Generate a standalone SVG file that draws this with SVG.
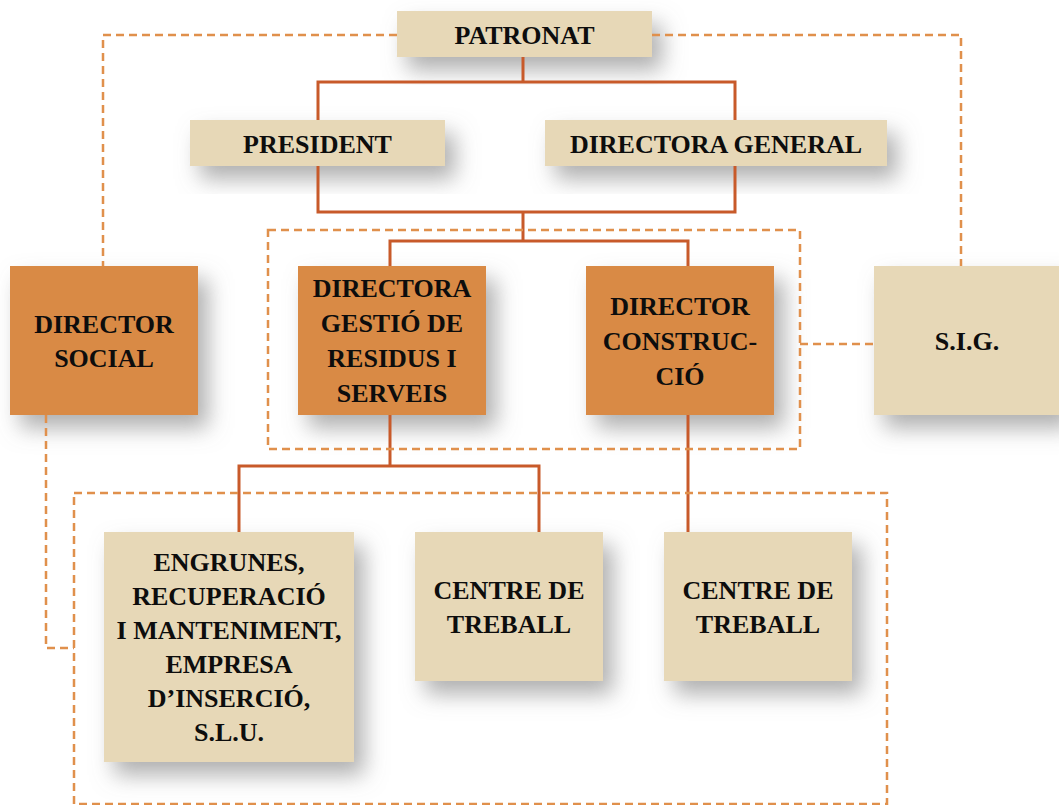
<svg xmlns="http://www.w3.org/2000/svg" width="1059" height="805" viewBox="0 0 1059 805">
<defs>
<filter id="sh" x="-30%" y="-40%" width="180%" height="200%">
<feDropShadow dx="10" dy="13" stdDeviation="11" flood-color="#7a7a7a" flood-opacity="0.6"/>
</filter>
<style>
.b{fill:#E7D8B7;filter:url(#sh)}
.o{fill:#D98A44;filter:url(#sh)}
.t{font-family:"Liberation Serif","Times New Roman",serif;font-weight:bold;font-size:26px;fill:#0d0d0d;text-anchor:middle}
.s{fill:none;stroke:#C85A2A;stroke-width:3}
.d{fill:none;stroke:#E0904C;stroke-width:2.5;stroke-dasharray:8 5}
</style>
</defs>
<rect width="1059" height="805" fill="#fff"/>
<g id="patronat"><rect class="b" x="397" y="11" width="255" height="46"/><text class="t" x="524.5" y="44">PATRONAT</text></g>
<g id="president"><rect class="b" x="190" y="120" width="255" height="46"/><text class="t" x="317.5" y="153">PRESIDENT</text></g>
<g id="directora-general"><rect class="b" x="545" y="120" width="342" height="46"/><text class="t" x="716" y="153">DIRECTORA GENERAL</text></g>
<g id="director-social"><rect class="o" x="10" y="266" width="188" height="149"/><text class="t" x="104" y="333">DIRECTOR</text><text class="t" x="104" y="367">SOCIAL</text></g>
<g id="directora-gestio"><rect class="o" x="298" y="266" width="188" height="149"/><text class="t" x="392" y="297">DIRECTORA</text><text class="t" x="392" y="332">GESTIÓ DE</text><text class="t" x="392" y="367">RESIDUS I</text><text class="t" x="392" y="402">SERVEIS</text></g>
<g id="director-construccio"><rect class="o" x="586" y="266" width="188" height="149"/><text class="t" x="680" y="315">DIRECTOR</text><text class="t" x="680" y="350">CONSTRUC-</text><text class="t" x="680" y="385">CIÓ</text></g>
<g id="sig"><rect class="b" x="874" y="266" width="188" height="149"/><text class="t" x="967" y="350">S.I.G.</text></g>
<g id="engrunes"><rect class="b" x="104" y="532" width="250" height="230"/><text class="t" x="229" y="571">ENGRUNES,</text><text class="t" x="229" y="605">RECUPERACIÓ</text><text class="t" x="229" y="639">I MANTENIMENT,</text><text class="t" x="229" y="673">EMPRESA</text><text class="t" x="229" y="707">D’INSERCIÓ,</text><text class="t" x="229" y="741">S.L.U.</text></g>
<g id="centre-treball-1"><rect class="b" x="415" y="532" width="188" height="149"/><text class="t" x="509" y="599">CENTRE DE</text><text class="t" x="509" y="633">TREBALL</text></g>
<g id="centre-treball-2"><rect class="b" x="664" y="532" width="188" height="149"/><text class="t" x="758" y="599">CENTRE DE</text><text class="t" x="758" y="633">TREBALL</text></g>
<g id="connectors">
<path class="s" d="M523 57V82M318 120V82H735V120"/>
<path class="s" d="M318 166V212H735V166M523 212V241"/>
<path class="s" d="M390 266V241H688V266"/>
<path class="s" d="M390 415V466M239 532V466H539V532"/>
<path class="s" d="M688 415V532"/>
<path class="d" d="M397 35H103V266"/>
<path class="d" d="M652 35H961V266"/>
<rect class="d" x="268" y="230" width="532" height="219"/>
<path class="d" d="M800 344H874"/>
<rect class="d" x="74" y="493" width="813" height="311"/>
<path class="d" d="M46 415V648H74"/>
</g>
</svg>
